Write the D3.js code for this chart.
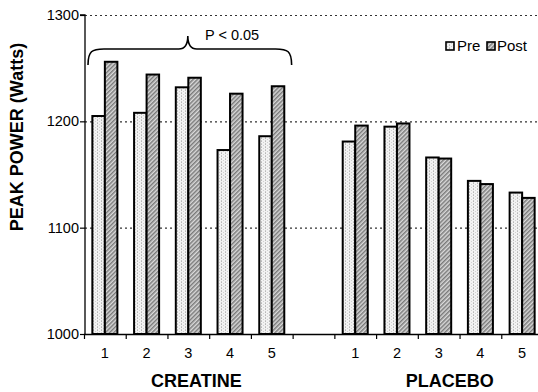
<!DOCTYPE html>
<html>
<head>
<meta charset="utf-8">
<script src="https://cdn.jsdelivr.net/npm/d3@7"></script>
<style>
  html, body { margin: 0; padding: 0; background: #fff; }
  svg { display: block; font-family: Arial, "Liberation Sans", Helvetica, sans-serif; }
</style>
</head>
<body>
<svg id="chart" width="538" height="392"></svg>
<script>
// Peak power before and after supplementation, per subject, in two groups
const groups = ["CREATINE", "PLACEBO"];
const subjects = ["1", "2", "3", "4", "5"];
const creatinePre  = [1205, 1208, 1232, 1173, 1186];
const creatinePost = [1256, 1244, 1241, 1226, 1233];
const placeboPre   = [1181, 1195, 1166, 1144, 1133];
const placeboPost  = [1196, 1198, 1165, 1141, 1128];
const seriesNames = ["Pre", "Post"];
const yTicks = [1000, 1100, 1200, 1300];
const yTitle = "PEAK POWER (Watts)";
const sigLabel = "P < 0.05";

// slots along the x axis: five creatine subjects, an empty gap, five placebo subjects
const slots = [
  ...subjects.map(s => "C" + s),
  "gap",
  ...subjects.map(s => "P" + s)
];
const rows = [
  ...subjects.map((s, i) => ({ slot: "C" + s, label: s, Pre: creatinePre[i], Post: creatinePost[i] })),
  ...subjects.map((s, i) => ({ slot: "P" + s, label: s, Pre: placeboPre[i], Post: placeboPost[i] }))
];

const svg = d3.select("#chart");
const plotL = 85, plotR = 543, plotT = 15, plotB = 334;

const x = d3.scaleBand().domain(slots).range([plotL - 1, plotR]).padding(0);
const x1 = d3.scaleBand().domain(seriesNames).range([0, x.bandwidth()]).paddingInner(0).paddingOuter(0.668);
const y = d3.scaleLinear().domain([1000, 1300]).range([plotB, plotT]);

// fill patterns: fine dotted grey for Pre, diagonal hatch for Post
const defs = svg.append("defs");
const pPre = defs.append("pattern").attr("id", "fillPre")
  .attr("patternUnits", "userSpaceOnUse").attr("width", 4).attr("height", 3);
pPre.append("rect").attr("width", 4).attr("height", 3).attr("fill", "#f2f2f2");
pPre.append("rect").attr("x", 1).attr("y", 0).attr("width", 1).attr("height", 1).attr("fill", "#b8b8b8");
pPre.append("rect").attr("x", 3).attr("y", 1).attr("width", 1).attr("height", 1).attr("fill", "#d0d0d0");
pPre.append("rect").attr("x", 1).attr("y", 2).attr("width", 1).attr("height", 1).attr("fill", "#c8c8c8");

const pPost = defs.append("pattern").attr("id", "fillPost")
  .attr("patternUnits", "userSpaceOnUse").attr("width", 3).attr("height", 3)
  .attr("patternTransform", "rotate(45)");
pPost.append("rect").attr("width", 3).attr("height", 3).attr("fill", "#dadada");
pPost.append("rect").attr("width", 1.5).attr("height", 3).attr("fill", "#7a7a7a");

const fills = { Pre: "url(#fillPre)", Post: "url(#fillPost)" };

// dotted horizontal gridlines
svg.append("g").selectAll("line")
  .data(yTicks.filter(t => t > 1000))
  .join("line")
  .attr("x1", plotL).attr("x2", 538)
  .attr("y1", d => y(d) + 0.5).attr("y2", d => y(d) + 0.5)
  .attr("stroke", "#333").attr("stroke-width", 1.2)
  .attr("stroke-dasharray", "2,3");

// bars
const barG = svg.append("g");
rows.forEach(r => {
  seriesNames.forEach(s => {
    barG.append("rect")
      .attr("x", x(r.slot) + x1(s))
      .attr("y", y(r[s]))
      .attr("width", x1.bandwidth())
      .attr("height", y(1000) - y(r[s]))
      .attr("fill", fills[s])
      .attr("stroke", "#000")
      .attr("stroke-width", 2);
  });
});

// y axis
const yAxis = d3.axisLeft(y).tickValues(yTicks).tickSize(5).tickPadding(1).tickFormat(d3.format("d"));
const yg = svg.append("g").attr("transform", `translate(${plotL},0)`).call(yAxis);
yg.select(".domain").attr("stroke", "#000").attr("stroke-width", 1.3).attr("d", `M-5,${plotT}H0V${plotB}`);
yg.selectAll(".tick line").attr("stroke", "#000").attr("stroke-width", 1.2);
yg.selectAll(".tick text").attr("font-size", 14.5).attr("fill", "#000")
  .attr("font-family", "Arial, 'Liberation Sans', sans-serif");

// x axis with ticks at slot boundaries
svg.append("line")
  .attr("x1", plotL - 1).attr("x2", 538)
  .attr("y1", plotB + 0.5).attr("y2", plotB + 0.5)
  .attr("stroke", "#000").attr("stroke-width", 1.3);
svg.append("g").selectAll("line")
  .data(slots)
  .join("line")
  .attr("x1", d => x(d) + 0.5).attr("x2", d => x(d) + 0.5)
  .attr("y1", plotB).attr("y2", plotB + 5)
  .attr("stroke", "#000").attr("stroke-width", 1.2);

// subject numbers under each pair
svg.append("g").selectAll("text")
  .data(rows)
  .join("text")
  .attr("x", d => x(d.slot) + x.bandwidth() / 2)
  .attr("y", 358)
  .attr("text-anchor", "middle")
  .attr("font-size", 14.5)
  .text(d => d.label);

// group names
const groupCenters = [
  (x("C1") + x("C5") + x.bandwidth()) / 2 + 8,
  (x("P1") + x("P5") + x.bandwidth()) / 2 + 11
];
svg.append("g").selectAll("text")
  .data(groups)
  .join("text")
  .attr("x", (d, i) => groupCenters[i])
  .attr("y", 387)
  .attr("text-anchor", "middle")
  .attr("font-size", 18)
  .attr("font-weight", "bold")
  .text(d => d);

// y axis title
svg.append("text")
  .attr("transform", "translate(23,137) rotate(-90)")
  .attr("text-anchor", "middle")
  .attr("font-size", 18)
  .attr("font-weight", "bold")
  .text(yTitle);

// significance brace over the creatine group
const bx0 = x("C1") + 4, bx1 = x("C5") + x.bandwidth() - 1;
const bmid = (bx0 + bx1) / 2 - 2;
const by = 49, bEnd = 65, bTip = 36, br = 9;
const brace = d3.path();
brace.moveTo(bx0, bEnd);
brace.bezierCurveTo(bx0, by + 2, bx0 + 4, by, bx0 + 16, by);
brace.lineTo(bmid - br, by);
brace.bezierCurveTo(bmid - 3, by, bmid, by - 4, bmid, bTip);
brace.bezierCurveTo(bmid, by - 4, bmid + 3, by, bmid + br, by);
brace.lineTo(bx1 - 16, by);
brace.bezierCurveTo(bx1 - 4, by, bx1, by + 2, bx1, bEnd);
svg.append("path")
  .attr("d", brace.toString())
  .attr("fill", "none")
  .attr("stroke", "#000")
  .attr("stroke-width", 1.6);
svg.append("text")
  .attr("x", 205)
  .attr("y", 40)
  .attr("font-size", 14.5)
  .text(sigLabel);

// legend
const legend = svg.append("g");
const legendItems = [
  { name: "Pre", bx: 446, tx: 457 },
  { name: "Post", bx: 487, tx: 497 }
];
legendItems.forEach(it => {
  legend.append("rect")
    .attr("x", it.bx).attr("y", 42).attr("width", 8).attr("height", 8)
    .attr("fill", fills[it.name]).attr("stroke", "#000").attr("stroke-width", 1.6);
  legend.append("text")
    .attr("x", it.tx).attr("y", 51)
    .attr("font-size", 15)
    .text(it.name);
});
</script>
</body>
</html>
